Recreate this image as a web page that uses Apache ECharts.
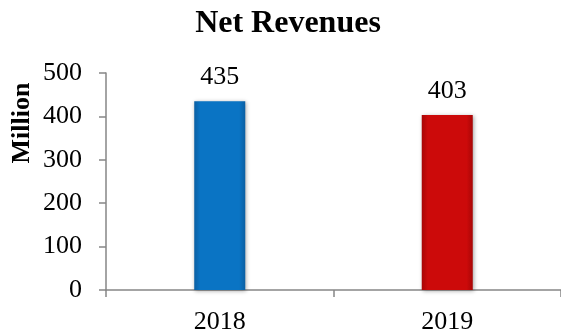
<!DOCTYPE html>
<html>
<head>
<meta charset="utf-8">
<script src="https://cdn.jsdelivr.net/npm/echarts@6/dist/echarts.min.js"></script>
<style>
  html, body { margin: 0; padding: 0; background: #fff; }
  #chart { width: 561px; height: 336px; }
</style>
</head>
<body>
<div id="chart"></div>
<script>
// Net revenues per year, in millions
const years = ['2018', '2019'];
const revenues = [435, 403];
const yTicks = { min: 0, max: 500, interval: 100 };

// Bevelled look: darker edges, brighter centre column
function barFill(edge, mid) {
  return new echarts.graphic.LinearGradient(0, 0, 1, 0, [
    { offset: 0, color: edge },
    { offset: 0.12, color: mid },
    { offset: 0.88, color: mid },
    { offset: 1, color: edge }
  ]);
}
const fills = [
  barFill('#0a5fa3', '#0a74c4'),
  barFill('#a80606', '#cc0a0a')
];

const FONT = '"Liberation Serif", "Times New Roman", serif';
const chart = echarts.init(document.getElementById('chart'));
chart.setOption({
  animation: false,
  textStyle: { fontFamily: FONT, color: '#000' },
  title: {
    text: 'Net Revenues',
    left: 283,
    textAlign: 'center',
    top: 3,
    textStyle: { fontFamily: FONT, fontSize: 32, fontWeight: 'bold', color: '#000' }
  },
  // Axis title, placed in the upper part of the value axis
  graphic: [{
    type: 'text',
    x: 22,
    y: 123,
    rotation: Math.PI / 2,
    style: {
      text: 'Million',
      fontFamily: FONT,
      fontSize: 26,
      fontWeight: 'bold',
      fill: '#000',
      align: 'center',
      verticalAlign: 'middle'
    }
  }],
  grid: { left: 106, top: 73, width: 460, height: 217 },
  xAxis: {
    type: 'category',
    data: years,
    axisLine: { lineStyle: { color: '#868686', width: 1.5 } },
    axisTick: { show: true, length: 7, lineStyle: { color: '#868686', width: 1.5 } },
    axisLabel: { fontFamily: FONT, fontSize: 26, color: '#000', margin: 19 }
  },
  yAxis: {
    type: 'value',
    min: yTicks.min,
    max: yTicks.max,
    interval: yTicks.interval,
    axisLine: { show: true, lineStyle: { color: '#868686', width: 1.5 } },
    axisTick: { show: true, length: 7, lineStyle: { color: '#868686', width: 1.5 } },
    axisLabel: { fontFamily: FONT, fontSize: 26, color: '#000', margin: 24 },
    splitLine: { show: false }
  },
  series: [{
    type: 'bar',
    barWidth: 51,
    data: revenues.map((v, i) => ({
      value: v,
      itemStyle: {
        color: fills[i],
        shadowColor: 'rgba(0,0,0,0.35)',
        shadowBlur: 4,
        shadowOffsetX: 1,
        shadowOffsetY: 1
      }
    })),
    label: {
      show: true,
      position: 'top',
      distance: 11,
      fontFamily: FONT,
      fontSize: 26,
      color: '#000'
    }
  }]
});
</script>
</body>
</html>
